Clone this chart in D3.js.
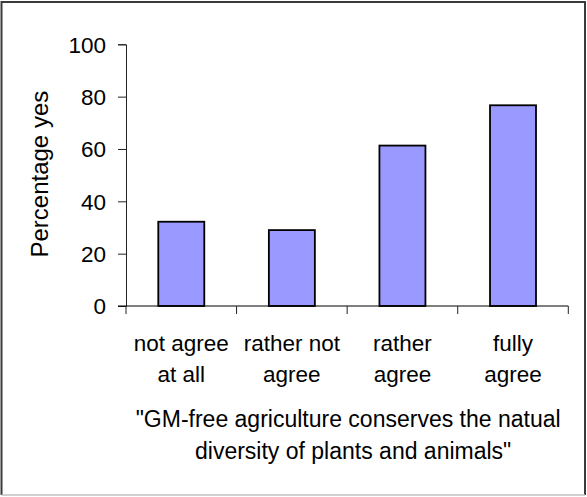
<!DOCTYPE html>
<html>
<head>
<meta charset="utf-8">
<script src="https://cdn.jsdelivr.net/npm/d3@7"></script>
<style>
  html, body { margin: 0; padding: 0; background: #fff; }
  svg { display: block; }
  text { font-family: "Liberation Sans", Arial, sans-serif; fill: #000; }
</style>
</head>
<body>
<script>
const categories = ["not agree|at all", "rather not|agree", "rather|agree", "fully|agree"];
const values = [32.2, 29.0, 61.3, 76.7];
const yTicks = [0, 20, 40, 60, 80, 100];
const yLabel = "Percentage yes";
const titleLines = ["\"GM-free agriculture conserves the natual", "diversity of plants and animals\""];

const W = 587, H = 497;
const svg = d3.select("body").append("svg").attr("width", W).attr("height", H);

// outer frame
svg.append("path").attr("d", "M1.5,495 L1.5,2 L585,2 L585,495")
  .attr("fill", "none").attr("stroke", "#3a3a3a").attr("stroke-width", 2);
svg.append("line").attr("x1", 1.5).attr("x2", 585).attr("y1", 495).attr("y2", 495)
  .attr("stroke", "#c0c0c0").attr("stroke-width", 1.5);

const x0 = 126, x1 = 568.3, yTop = 44.3, yBot = 306;
const x = d3.scaleBand().domain(categories).range([x0, x1]).paddingInner(0.584).paddingOuter(0.292);
const y = d3.scaleLinear().domain([0, 100]).range([yBot, yTop]);

// bars
svg.append("g").selectAll("rect").data(values).join("rect")
  .attr("x", (d, i) => x(categories[i]))
  .attr("y", d => y(d))
  .attr("width", x.bandwidth())
  .attr("height", d => y(0) - y(d))
  .attr("fill", "#9999ff")
  .attr("stroke", "#000")
  .attr("stroke-width", 1.8);

// y axis
const yAxis = svg.append("g").attr("transform", `translate(${x0},0)`)
  .call(d3.axisLeft(y).tickValues(yTicks).tickSize(8).tickPadding(12).tickFormat(d3.format("d")));
yAxis.select(".domain").attr("stroke", "#222").attr("stroke-width", 1);
yAxis.selectAll(".tick line").attr("stroke", "#222");
yAxis.selectAll(".tick text").attr("font-size", 22.5)
  .attr("font-family", "Liberation Sans, Arial, sans-serif").attr("dy", "0.35em");

// x axis line with boundary ticks
const step = x.step();
const boundaries = d3.range(categories.length + 1).map(i => x.range()[0] + i * step);
const xAxisG = svg.append("g");
xAxisG.append("line").attr("x1", x0 - 8).attr("x2", x1).attr("y1", yBot).attr("y2", yBot)
  .attr("stroke", "#000").attr("stroke-width", 1.2);
xAxisG.selectAll("line.bt").data(boundaries).join("line").attr("class", "bt")
  .attr("x1", d => d).attr("x2", d => d).attr("y1", yBot).attr("y2", yBot + 8)
  .attr("stroke", "#222").attr("stroke-width", 1);

// category labels
const catG = svg.append("g");
categories.forEach(c => {
  const cx = x(c) + x.bandwidth() / 2;
  const parts = c.split("|");
  const t = catG.append("text").attr("text-anchor", "middle").attr("font-size", 22.5);
  parts.forEach((p, i) => {
    t.append("tspan").attr("x", cx).attr("y", 350.5 + i * 31.5).text(p);
  });
});

// y label
svg.append("text")
  .attr("transform", `translate(48,${(yTop + yBot) / 2 - 1}) rotate(-90)`)
  .attr("text-anchor", "middle").attr("font-size", 24)
  .text(yLabel);

// title
const tcx = (x0 + x1) / 2;
titleLines.forEach((l, i) => {
  svg.append("text").attr("x", tcx + (i === 1 ? 6 : 1)).attr("y", 427 + i * 31.5)
    .attr("text-anchor", "middle").attr("font-size", 23).text(l);
});
</script>
</body>
</html>
